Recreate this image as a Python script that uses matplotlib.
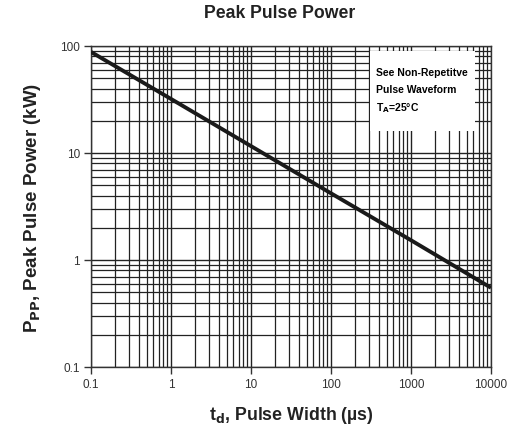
import matplotlib
matplotlib.use('Agg')
import matplotlib.pyplot as plt
from matplotlib.ticker import LogLocator, FixedLocator, NullFormatter
from matplotlib.patches import Rectangle

pulse_width = [0.1, 1, 10, 100, 1000, 10000]
peak_power = [88, 32, 11.6, 4.2, 1.53, 0.55]
x_ticks = [0.1, 1, 10, 100, 1000, 10000]
x_tick_labels = ['0.1', '1', '10', '100', '1000', '10000']
y_ticks = [0.1, 1, 10, 100]
y_tick_labels = ['0.1', '1', '10', '100']

plt.rcParams['font.family'] = ['Liberation Sans', 'DejaVu Sans']

fig = plt.figure(figsize=(5.09, 4.31), dpi=100)
ax = fig.add_axes([91/509, 1-368/431, 400/509, 321/431])

ax.set_xscale('log')
ax.set_yscale('log')
ax.set_xlim(0.1, 10000)
ax.set_ylim(0.1, 100)

ax.xaxis.set_major_locator(FixedLocator(x_ticks))
ax.yaxis.set_major_locator(FixedLocator(y_ticks))
ax.set_xticklabels(x_tick_labels)
ax.set_yticklabels(y_tick_labels)
ax.xaxis.set_minor_locator(LogLocator(base=10, subs=range(2, 10), numticks=20))
ax.yaxis.set_minor_locator(LogLocator(base=10, subs=range(2, 10), numticks=20))
ax.xaxis.set_minor_formatter(NullFormatter())
ax.yaxis.set_minor_formatter(NullFormatter())

ax.grid(True, which='major', color='#222222', lw=1.0)
ax.grid(True, which='minor', color='#222222', lw=0.9)
ax.set_axisbelow(True)

ax.tick_params(which='major', direction='out', length=5, width=1, colors='#333333',
               labelsize=8.5, labelcolor='#333333', pad=3)
ax.tick_params(which='minor', length=0)
ax.tick_params(top=False, right=False)
for s in ax.spines.values():
    s.set_color('#333333')
    s.set_linewidth(1)

# white box for the note
ax.add_patch(Rectangle((370/509, 1-132/431), 105/509, 80/431, transform=fig.transFigure,
                       facecolor='white', edgecolor='none', zorder=2))

ax.plot(pulse_width, peak_power, color='#1a1a1a', lw=2.8, zorder=3, solid_capstyle='butt')

fig.text(376/509, 1-73/431, 'See Non-Repetitve', fontsize=7.5, fontweight='bold', va='center', zorder=4)
fig.text(376/509, 1-90/431, 'Pulse Waveform', fontsize=7.5, fontweight='bold', va='center', zorder=4)
fig.text(376/509, 1-108/431, r'T$_{\mathbf{A}}$=25°C', fontsize=7.5, fontweight='bold', va='center', zorder=4)

fig.text(280/509, 1-14/431, 'Peak Pulse Power', fontsize=12.7, fontweight='bold',
         ha='center', va='center', color='#222222')
ax.set_xlabel(r't$_{\mathbf{d}}$, Pulse Width (µs)', fontsize=12.8, fontweight='bold',
              color='#222222', labelpad=10)
ax.set_ylabel(r'P$_{\mathbf{PP}}$, Peak Pulse Power (kW)', fontsize=13.5, fontweight='bold',
              color='#222222', labelpad=12)

fig.savefig('out.png', dpi=100)
